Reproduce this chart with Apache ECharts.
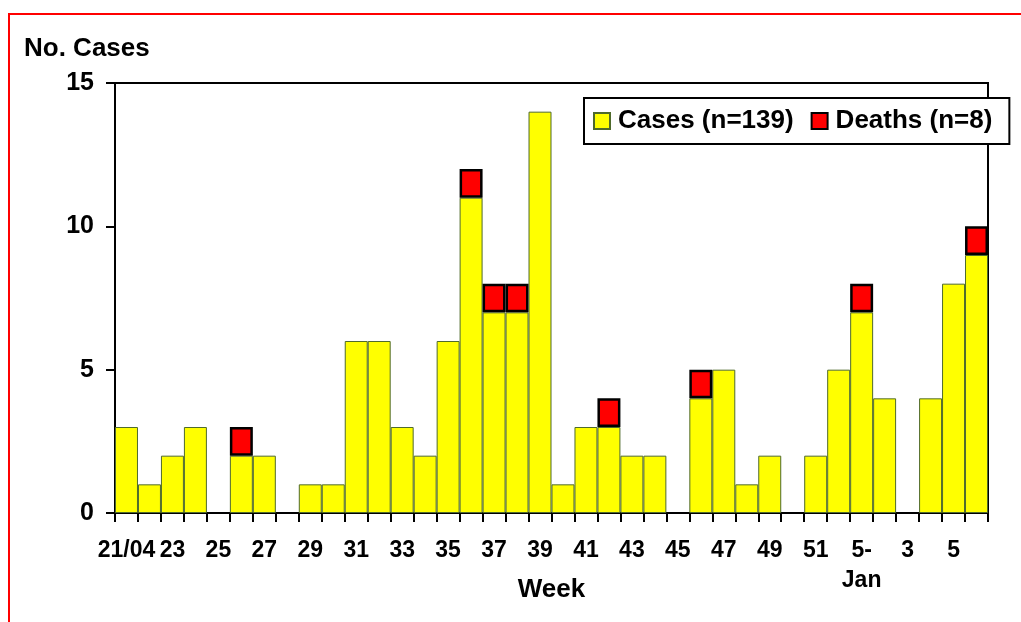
<!DOCTYPE html>
<html>
<head>
<meta charset="utf-8">
<script src="https://cdn.jsdelivr.net/npm/echarts@6/dist/echarts.min.js"></script>
<style>
  html, body { margin: 0; padding: 0; background: #fff; }
  #chart { width: 1021px; height: 622px; }
</style>
</head>
<body>
<div id="chart"></div>
<script>
// week labels (only every other one is shown on the axis)
const weeks = ['21/04', '22', '23', '24', '25', '26', '27', '28', '29', '30',
  '31', '32', '33', '34', '35', '36', '37', '38', '39', '40',
  '41', '42', '43', '44', '45', '46', '47', '48', '49', '50',
  '51', '52', '5-\nJan', '2', '3', '4', '5', '6'];
const cases = [3, 1, 2, 3, 0, 2, 2, 0, 1, 1,
  6, 6, 3, 2, 6, 11, 7, 7, 14, 1,
  3, 3, 2, 2, 0, 4, 5, 1, 2, 0,
  2, 5, 7, 4, 0, 4, 8, 9];
const deaths = [0, 0, 0, 0, 0, 1, 0, 0, 0, 0,
  0, 0, 0, 0, 0, 1, 1, 1, 0, 0,
  0, 1, 0, 0, 0, 1, 0, 0, 0, 0,
  0, 0, 1, 0, 0, 0, 0, 1];
const yTicks = [0, 5, 10, 15];

const font = 'Liberation Sans, Arial, sans-serif';
const chart = echarts.init(document.getElementById('chart'));

// empty weeks draw nothing
const hideZero = v => (v === 0 ? '-' : v);

chart.setOption({
  animation: false,
  backgroundColor: '#fff',
  title: {
    text: 'No. Cases',
    left: 24,
    top: 36,
    padding: 0,
    textStyle: { fontFamily: font, fontWeight: 'bold', fontSize: 26, color: '#000' }
  },
  legend: {
    left: 584,
    top: 98,
    padding: [10, 17, 10, 9],
    backgroundColor: '#fff',
    borderColor: '#000',
    borderWidth: 2,
    itemWidth: 16,
    itemHeight: 16,
    itemGap: 17,
    icon: 'rect',
    textStyle: { fontFamily: font, fontWeight: 'bold', fontSize: 26, color: '#000', padding: [0, 0, 0, 3] },
    data: ['Cases (n=139)', 'Deaths (n=8)']
  },
  grid: {
    left: 115,
    right: 33,
    top: 83,
    bottom: 109,
    outerBoundsMode: 'none',
    show: true,
    borderColor: '#000',
    borderWidth: 2
  },
  xAxis: {
    type: 'category',
    data: weeks,
    name: 'Week',
    nameLocation: 'middle',
    nameGap: 64,
    nameMoveOverlap: false,
    nameTextStyle: { fontFamily: font, fontWeight: 'bold', fontSize: 26, color: '#000' },
    axisLine: { lineStyle: { color: '#000', width: 2 } },
    axisTick: { show: true, interval: 0, length: 9, lineStyle: { color: '#000', width: 2 } },
    axisLabel: {
      interval: 1,
      margin: 23,
      fontFamily: font,
      fontWeight: 'bold',
      fontSize: 23,
      lineHeight: 30,
      color: '#000'
    }
  },
  yAxis: {
    type: 'value',
    min: yTicks[0],
    max: yTicks[yTicks.length - 1],
    interval: 5,
    splitLine: { show: false },
    axisLine: { show: true, lineStyle: { color: '#000', width: 2 } },
    axisTick: { show: true, length: 9, lineStyle: { color: '#000', width: 2 } },
    axisLabel: { margin: 21, fontFamily: font, fontWeight: 'bold', fontSize: 25, color: '#000' }
  },
  series: [
    {
      name: 'Cases (n=139)',
      type: 'bar',
      stack: 'total',
      barCategoryGap: 0,
      data: cases.map(hideZero),
      itemStyle: { color: '#ffff00', borderColor: '#4f6a2c', borderWidth: 1 }
    },
    {
      name: 'Deaths (n=8)',
      type: 'bar',
      stack: 'total',
      barCategoryGap: 0,
      data: deaths.map(hideZero),
      itemStyle: { color: '#ff0000', borderColor: '#000', borderWidth: 2.5 }
    }
  ],
  graphic: [
    { type: 'line', shape: { x1: 8, y1: 14, x2: 1021, y2: 14 }, style: { stroke: '#ff0000', lineWidth: 2 } },
    { type: 'line', shape: { x1: 9, y1: 13, x2: 9, y2: 622 }, style: { stroke: '#ff0000', lineWidth: 2 } }
  ]
});
</script>
</body>
</html>
